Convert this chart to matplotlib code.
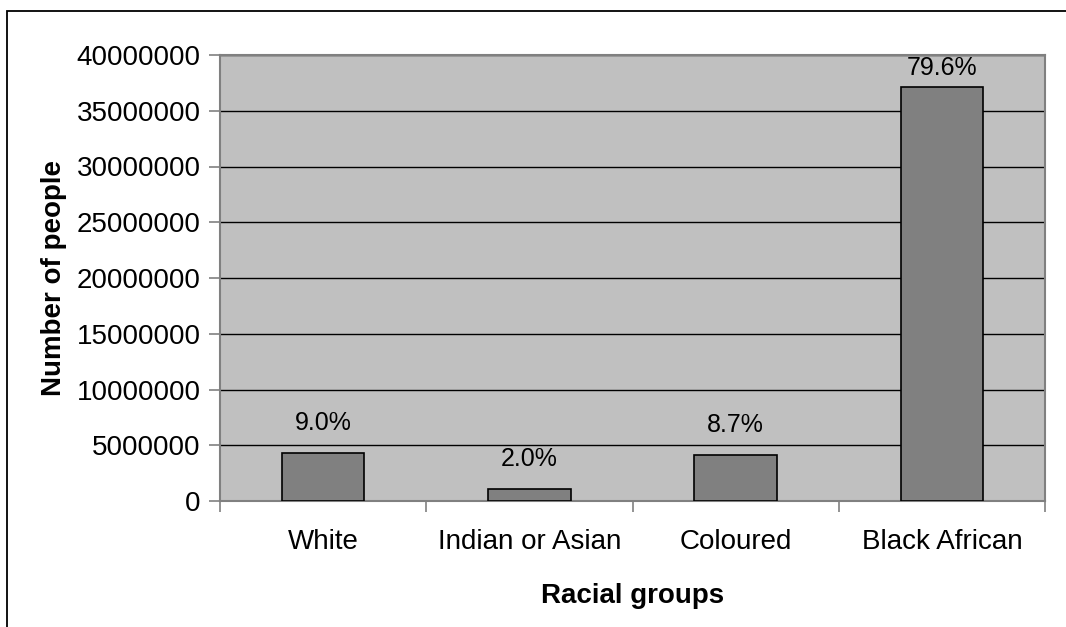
import numpy as np
import matplotlib
matplotlib.use("Agg")
import matplotlib.pyplot as plt
from matplotlib.patches import Rectangle

plt.rcParams["font.family"] = ["Liberation Sans", "DejaVu Sans"]

groups  = ["White", "Indian or Asian", "Coloured", "Black African"]
people  = [4330000, 1080000, 4130000, 37150000]
shares  = ["9.0%", "2.0%", "8.7%", "79.6%"]
y_ticks = np.arange(0, 40000001, 5000000)

W, H = 1066, 627
fig = plt.figure(figsize=(W / 100, H / 100), dpi=100)
ax = fig.add_axes([220 / W, 1 - 501 / H, (1045 - 220) / W, (501 - 55) / H])

# outer chart-area border (cut off at right and bottom in the original)
fig.add_artist(Rectangle((7 / W, -0.1), 1.2, 1.1 - 11 / H, transform=fig.transFigure,
                         fill=False, edgecolor="black", linewidth=1.3))

ax.set_facecolor("#c0c0c0")
x = np.arange(len(groups))
ax.bar(x, people, width=0.4, color="#808080", edgecolor="black", linewidth=1.2, zorder=3)

for xi, v, s in zip(x, people, shares):
    ax.text(xi, min(v + 2.7e6, 38.8e6), s, ha="center", va="center", fontsize=18, zorder=4)

ax.set_xlim(-0.5, len(groups) - 0.5)
ax.set_ylim(0, 40000000)
ax.set_yticks(y_ticks)
ax.set_yticklabels([str(t) for t in y_ticks], fontsize=20)
ax.yaxis.grid(True, color="black", linewidth=1.0, zorder=1)
ax.set_axisbelow(True)

# category labels centered, tick marks on boundaries
ax.set_xticks(x)
ax.set_xticklabels(groups, fontsize=20)
ax.tick_params(axis="x", which="major", length=0, pad=20)
ax.set_xticks(np.arange(-0.5, len(groups)), minor=True)
ax.tick_params(axis="x", which="minor", length=8, color="#808080", width=1.2)
ax.tick_params(axis="y", length=8, color="#808080", width=1.2, pad=6)

for sp in ax.spines.values():
    sp.set_color("#808080")
    sp.set_linewidth(1.5)

ax.set_xlabel("Racial groups", fontsize=20, fontweight="bold", labelpad=20)
ax.set_ylabel("Number of people", fontsize=20, fontweight="bold", labelpad=7)

fig.savefig("out.png", dpi=100)
